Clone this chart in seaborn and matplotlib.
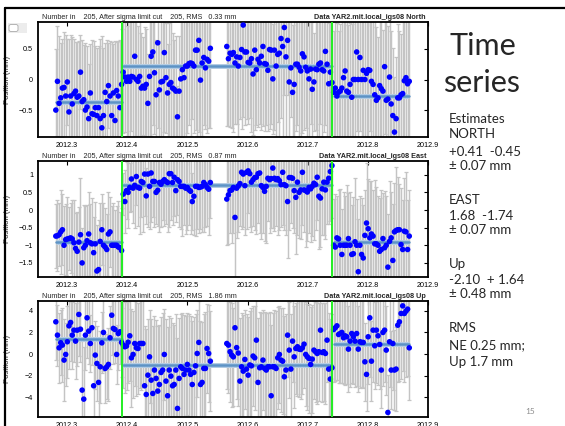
import numpy as np
import matplotlib
matplotlib.use("Agg")
import matplotlib.pyplot as plt
import seaborn as sns
from matplotlib.lines import Line2D
from matplotlib.patches import FancyBboxPatch
from matplotlib.ticker import FuncFormatter

# day of year (2012) of each daily solution
days = [
    103, 104, 105, 106, 107, 108, 109, 110, 111, 112, 113, 114, 115, 116, 117, 118, 119, 120, 121, 122,
    123, 124, 125, 126, 127, 128, 129, 130, 131, 132, 133, 134, 135, 136, 137, 138, 139, 140, 141, 142,
    143,
    144, 145, 146, 147, 148, 149, 150, 151, 152, 153, 154, 155, 156, 157, 158, 159, 160, 161, 162, 163,
    164, 165, 166, 167, 168, 169, 170, 171, 172, 173, 174, 175, 176, 177, 178, 179, 180, 181, 182, 183,
    184, 185, 186, 187, 188, 189, 190, 191, 192, 193, 194, 195, 196, 197,
    207, 208, 209, 210, 211, 212, 213, 214, 215, 216, 217, 218, 219, 220, 221, 222, 223, 224, 225, 226,
    227, 228, 229, 230, 231, 232, 233, 234, 235, 236, 237, 238, 239, 240, 241, 242, 243, 244, 245, 246,
    247, 248, 249, 250, 251, 252, 253, 254, 255, 256, 257, 258, 259, 260, 261, 262, 263, 264, 265, 266,
    267, 268, 269, 270, 271,
    272, 273, 274, 275, 276, 277, 278, 279, 280, 281, 282, 283, 284, 285, 286, 287, 288, 289, 290, 291,
    292, 293, 294, 295, 296, 297, 298, 299, 300, 301, 302, 303, 304, 305, 306, 307, 308, 309, 310, 311,
    312, 313, 314, 315, 316, 317, 318,
]

north = [
    -0.50, -0.03, -0.39, -0.30, -0.14, -0.13, -0.27, -0.04, -0.53, -0.27, -0.40, -0.23, -0.19, -0.29, -0.27,
    0.12, -0.36, -0.33, -0.50, -0.45, -0.64, -0.22, -0.56, -0.57, -0.46, -0.59, -0.46, -0.64, -0.79, -0.59,
    -0.21, -0.36, -0.10, -0.27, -0.59, -0.22, -0.67, -0.18, -0.27, -0.46, -0.08,
    0.12, 0.04, -0.03, 0.04, -0.03, 0.05, 0.04, 0.38, 0.00, -0.03, 0.05, -0.14, -0.11, -0.14, -0.08,
    -0.39, 0.05, 0.38, 0.45, 0.11, -0.25, 0.60, -0.17, -0.04, -0.03, 0.44, 0.03, -0.22, -0.08, -0.05,
    -0.14, -0.16, -0.19, -0.61, -0.19, 0.01, 0.16, 0.03, 0.22, 0.22, 0.26, 0.27, 0.26, 0.22, 0.48,
    0.48, 0.64, -0.01, 0.27, 0.36, 0.19, 0.33, 0.30, 0.51,
    0.54, 0.34, 0.43, 0.41, 0.44, 0.27, 0.37, 0.22, 0.36,
    0.49, 0.89, 0.45, 0.45, 0.28, 0.27, 0.34, 0.09, 0.48, 0.16, 0.33, 0.27, 0.38, 0.54, 0.26,
    0.25, 0.15, 0.49, 0.48, 0.01, 0.48, 0.22, 0.41, 0.43, 0.67, 0.54, 0.85, 0.37, 0.64, -0.04,
    0.19, -0.21, -0.08, 0.25, 0.25, 0.20, 0.14, 0.42, 0.37, 0.20, 0.14, 0.01, 0.17, -0.16, -0.04,
    0.17, 0.16, 0.25, 0.27, 0.16, 0.14, 0.46, 0.25, -0.07, 0.12, -0.05,
    -0.21, -0.14, -0.27, -0.21, -0.19, -0.14, 0.03, 0.14, -0.19, -0.21, -0.08, -0.29, 0.00, 0.00, 0.45,
    0.00, 0.36, 0.00, 0.15, 0.00, 0.10, 0.16, 0.15, -0.03, -0.08, -0.25, -0.34, -0.30, -0.10, -0.15,
    -0.19, 0.21, -0.34, -0.32, 0.04, -0.40, -0.59, -0.86, -0.64, -0.30, -0.30, -0.25, -0.23, -0.02, 0.03,
    -0.07, -0.03,
]
north_sig = [
    1.0, 0.9, 1.1, 0.9, 0.8, 0.9, 1.0, 0.7, 1.2, 1.0, 1.1, 0.9, 0.8, 0.9, 0.9, 0.6, 1.0, 0.9, 1.1, 1.0,
    0.9, 0.8, 1.2, 1.2, 1.0, 1.1, 1.0, 1.3, 1.5, 1.1, 0.8, 1.0, 0.7, 0.9, 1.2, 0.8, 1.3, 0.8, 0.9, 1.1,
    0.9,
    1.0, 0.9, 0.9, 1.1, 1.2, 0.9, 1.0, 1.3, 1.0, 0.9, 1.1, 0.9, 0.8, 1.0, 0.9, 0.8, 1.2, 1.3, 1.2, 1.0,
    0.9, 1.4, 0.8, 1.0, 1.1, 1.3, 0.9, 0.8, 1.0, 1.1, 0.9, 0.8, 0.9, 0.5, 0.9, 1.0, 1.1, 1.0, 1.2, 1.1,
    1.0, 1.2, 0.9, 1.1, 1.3, 1.4, 1.5, 1.0, 1.2, 1.1, 1.0, 1.2, 1.1, 1.3,
    1.3, 1.1, 1.2, 1.2, 1.3, 1.0, 1.1, 1.2, 1.0, 1.3, 1.5, 1.2, 1.1, 1.0, 0.9, 1.2, 1.0, 1.3, 0.9, 1.1,
    1.0, 1.2, 1.3, 1.1, 1.0, 1.0, 1.3, 1.2, 0.9, 1.3, 1.2, 1.1, 1.4, 1.3, 1.5, 1.1, 1.4, 0.9, 1.0, 0.8,
    1.1, 1.2, 1.1, 1.0, 1.2, 1.1, 1.3, 1.2, 1.0, 1.1, 1.0, 0.9, 1.1, 0.8, 1.0, 1.1, 1.2, 1.0, 1.1, 1.0,
    1.2, 1.3, 1.0, 1.2, 1.1,
    1.0, 1.1, 1.2, 1.0, 1.1, 1.2, 1.0, 1.1, 1.3, 1.1, 1.0, 1.2, 1.1, 1.0, 1.3, 1.1, 1.2, 1.0, 1.1, 1.0,
    1.2, 1.1, 1.0, 1.2, 1.1, 1.3, 1.2, 1.0, 1.1, 1.2, 1.0, 1.1, 1.3, 1.2, 1.0, 1.2, 1.1, 0.9, 1.0, 1.2,
    1.1, 1.0, 1.2, 1.1, 1.0, 1.2, 1.1,
]

east = [
    -0.74, -0.73, -0.70, -0.62, -0.56, -1.00, -0.84, -0.82, -0.81, -0.79, -0.82, -0.93, -1.09, -1.17, -0.91,
    -0.70, -1.50, -1.07, -1.00, -0.87, -0.68, -0.93, -0.96, -1.21, -0.96, -1.73, -1.69, -0.89, -0.56, -1.00,
    -1.05, -1.12, -0.68, -0.62, -1.00, -1.00, -1.00, -1.00, -1.05, -1.07, -1.15,
    0.45, 0.24, 0.55, 0.50, 0.64, 0.88, 0.62, 0.70, 0.95, 0.64, 0.62, 0.81, 0.78, 1.02, 0.40,
    1.02, 0.67, 1.05, 0.81, 0.81, 0.50, 0.56, 0.78, 0.73, 0.81, 0.86, 0.81, 0.78, 1.03, 1.03,
    0.78, 0.93, 0.55, 0.86, 0.81, 0.67, 0.67, 0.67, 0.62, 0.64, 0.57, 0.53, 0.24, 0.39, 0.67,
    0.67, 0.64, 0.65, 0.67, 0.78, 0.72, 0.64, 0.59, 0.78,
    0.31, 0.43, 0.55, 0.57, 0.64, -0.21, 0.62, 0.68, 0.75,
    1.07, 1.02, 0.69, 1.07, 1.11, 1.03, 0.79, 0.86, 0.92, 0.93, 1.03, 1.05, 0.69, 0.64, 0.53,
    0.67, 0.90, 0.86, 0.89, 1.19, 0.90, 0.86, 0.89, 0.83, 0.72, 1.07, 0.72, 0.69, 0.24, 0.92,
    0.92, 0.90, 0.55, 0.36, 0.79, 0.50, 0.57, 1.07, 0.57, 0.55, 0.51, 0.64, 0.60, 0.67, 0.76,
    0.72, 0.93, 0.39, 0.34, 0.60, 0.79, 0.57, 0.79, 0.90, 1.09, 1.26,
    -1.00, -1.05, -0.79, -0.82, -1.00, -1.26, -1.00, -1.00, -1.00, -0.81, -1.00, -1.26, -1.24, -0.90, -1.00,
    -1.75, -1.00, -1.26, -1.36, -0.72, -0.37, -0.53, -0.79, -0.68, -0.74, -0.96, -0.96, -1.00, -1.17, -1.12,
    -0.81, -1.07, -1.00, -1.62, -0.89, -0.79, -1.43, -0.62, -0.58, -0.56, -0.56, -0.98, -1.12, -0.60, -0.62,
    -1.12, -0.74,
]
east_sig = [
    0.9, 1.0, 0.9, 1.2, 1.0, 1.1, 1.0, 1.2, 0.9, 1.0, 1.1, 1.2, 1.0, 1.1, 1.0, 1.6, 1.0, 1.2, 1.1, 1.0,
    1.2, 1.1, 1.3, 1.0, 1.2, 1.3, 1.4, 1.1, 1.0, 1.2, 1.1, 1.0, 1.2, 1.0, 1.1, 1.2, 1.0, 1.1, 1.3, 1.0,
    1.2,
    0.6, 0.9, 0.8, 1.0, 0.7, 0.9, 1.0, 1.2, 0.8, 1.1, 1.3, 1.0, 1.4, 1.2, 0.8, 1.5, 1.2, 1.4, 1.0, 1.3,
    0.9, 1.0, 1.4, 1.2, 1.1, 1.3, 1.2, 1.4, 1.5, 1.3, 1.2, 1.1, 0.9, 1.0, 1.3, 1.2, 1.4, 1.1, 1.3, 1.2,
    1.0, 1.2, 0.8, 1.1, 1.4, 1.2, 1.3, 1.2, 1.3, 1.4, 1.2, 1.1, 1.3, 1.0,
    1.3, 1.4, 1.2, 1.5, 1.3, 2.5, 1.4, 1.3, 1.2, 1.6, 1.5, 1.4, 1.6, 1.2, 1.5, 1.4, 1.3, 1.5, 1.6, 1.4,
    1.7, 1.5, 1.3, 1.4, 1.6, 1.2, 1.5, 1.4, 1.7, 1.5, 1.3, 1.6, 1.4, 1.2, 1.5, 1.3, 1.4, 1.6, 1.5, 1.3,
    1.4, 1.2, 1.6, 1.5, 1.3, 1.4, 1.5, 1.2, 1.6, 1.4, 1.3, 1.5, 1.4, 1.6, 1.3, 1.2, 1.5, 1.4, 1.3, 1.5,
    1.4, 1.2, 1.3, 1.4, 1.5,
    1.3, 1.5, 1.2, 1.4, 1.6, 1.3, 1.5, 1.4, 1.7, 1.3, 1.5, 1.4, 1.6, 1.8, 1.3, 1.5, 1.4, 1.6, 1.5, 1.3,
    1.7, 1.4, 1.6, 1.5, 1.3, 1.8, 1.6, 1.4, 1.5, 1.7, 1.3, 1.6, 1.4, 1.5, 1.7, 1.3, 1.6, 1.4, 1.8, 1.5,
    1.3, 1.6, 1.4, 1.5, 1.7, 1.4, 1.3,
]

up = [
    2.98, 1.75, 0.58, 1.05, 0.83, -0.55, -0.03, 1.14, 2.61, 2.92, 1.75, 2.21, 1.20, 2.21, 3.66,
    2.30, -3.32, -4.15, 1.75, 3.35, 2.12, 0.98, 2.43, -2.92, -0.09, -0.86, -2.61, -1.17, 1.04, 2.00,
    -1.32, -1.17, -0.95, 1.51, 3.59, 2.37, 2.27, -0.03, 1.90, 2.06, 1.08,
    0.83, 0.68, 0.75, 1.10, 1.69, -0.34, -0.03, 0.98, 0.58, 0.52, 0.98, 0.98, 0.98, -2.92, -3.72,
    -1.94, -0.25, -2.40, -3.63, -1.47, -2.24, -3.41, -2.80, -1.69, -1.47, -0.03, -2.49, -3.84, -1.47, -2.03,
    -2.92, -2.80, -1.47, -5.01, -2.24, -1.17, -1.32, -1.87, -1.47, -0.95, -1.47, -1.87, -2.80, -1.69, -1.08,
    0.06, 1.08, -2.80, -2.61, -1.32, -1.32, 0.52, 0.06, -0.65,
    0.98, 0.83, 0.22, -0.09, -0.25, 2.43, 0.60, 0.10, -2.49, -1.17, -1.57, -0.49, -1.38, -1.94, -1.00,
    -1.08, -0.18, -0.34, 1.29, -2.61, -1.26, -1.17, -0.55, -1.32, -1.47, -1.17, -1.17, -3.84, -1.17, -1.17,
    -1.32, -0.34, -0.03, -0.55, -0.65, -2.09, -1.47, 1.75, 0.37, -1.38, 1.20, -0.25, 0.52, 0.68, 0.46,
    0.43, 0.58, 0.92, -0.03, -0.25, -0.40, -0.95, -0.46, 0.37, 0.22, 0.06, 0.22, 2.21, 0.15, 0.22,
    0.06, 1.29, -1.38, -2.30, -1.26,
    2.27, 2.43, 2.61, 1.81, 1.90, 2.00, 1.51, 1.69, 1.60, 0.46, 1.20, 1.90, 1.60, 1.20, 1.90,
    0.46, 1.14, 1.08, 1.08, -0.71, -1.87, 1.60, 3.35, -0.65, 2.21, 0.77, 2.21, 1.69, 0.89, -1.47,
    2.00, 2.21, 0.37, -5.38, 1.14, -1.47, 0.98, -1.47, -1.38, 2.67, 2.98, 3.75, 4.45, 3.75, 3.96,
    4.15, 0.58,
]
up_sig = [
    3.5, 2.8, 3.2, 3.0, 3.4, 3.8, 2.9, 3.3, 4.0, 3.6, 3.1, 2.9, 3.5, 3.3, 3.8, 3.0, 4.5, 4.8, 3.2, 3.7,
    3.0, 2.6, 3.4, 4.2, 3.1, 3.5, 4.0, 3.3, 2.8, 3.6, 3.2, 3.0, 3.4, 2.9, 3.7, 3.3, 3.1, 2.7, 3.4, 3.0,
    3.2,
    4.0, 4.3, 4.1, 3.8, 4.2, 4.5, 4.0, 3.9, 4.4, 4.2, 4.1, 4.3, 4.0, 5.5, 6.0, 5.2, 4.3, 5.6, 6.2, 5.0,
    5.4, 6.0, 5.5, 5.1, 5.3, 4.2, 5.7, 6.3, 5.0, 5.4, 5.8, 5.5, 5.2, 6.5, 5.6, 4.9, 5.1, 5.5, 5.0, 4.7,
    5.2, 5.4, 5.9, 5.1, 4.8, 4.0, 3.8, 5.9, 5.6, 5.0, 5.2, 4.1, 4.5, 4.6,
    4.2, 4.4, 4.6, 4.8, 4.5, 3.5, 4.7, 4.9, 5.8, 5.0, 5.2, 4.6, 5.1, 5.4, 5.0, 5.3, 4.6, 4.8, 3.8, 5.9,
    5.1, 5.0, 4.6, 5.2, 5.3, 5.0, 5.1, 6.5, 5.0, 5.2, 5.3, 4.7, 4.5, 4.8, 4.9, 5.6, 5.2, 3.9, 4.4, 5.1,
    3.8, 4.7, 4.2, 4.5, 4.4, 4.6, 4.3, 4.0, 4.8, 4.9, 5.0, 5.3, 5.0, 4.5, 4.6, 4.7, 4.5, 3.4, 4.6, 4.5,
    4.7, 3.9, 5.2, 5.5, 5.0,
    4.8, 4.9, 5.0, 4.5, 4.6, 4.7, 4.3, 4.5, 4.4, 4.0, 4.2, 4.6, 4.4, 4.2, 4.8, 4.0, 4.3, 4.1, 4.2, 3.6,
    3.4, 4.4, 5.5, 3.7, 4.8, 4.0, 4.9, 4.5, 4.1, 3.5, 4.9, 4.8, 4.1, 3.5, 4.2, 3.6, 4.3, 3.7, 3.9, 5.2,
    5.5, 6.0, 6.0, 6.3, 6.1, 6.2, 4.8,
]

# fitted offsets for the three intervals between breaks
seg_days = [(103, 143), (144, 271), (272, 318)]
north_fit = [-0.36, 0.22, -0.27]
east_fit = [-0.92, 0.72, -0.91]
up_fit = [1.44, -1.01, 0.92]
breaks = [2012.392, 2012.741]

components = ["North", "East", "Up"]
rms = ["0.33", "0.87", "1.86"]
ylims = [(-0.94, 0.94), (-1.9, 1.39), (-5.8, 4.9)]
yticks = [[-0.5, 0, 0.5], [-1.5, -1, -0.5, 0, 0.5, 1], [-4, -2, 0, 2, 4]]
xticks = [2012.3, 2012.4, 2012.5, 2012.6, 2012.7, 2012.8, 2012.9]

notes = [
    ("Estimates", 122.7), ("NORTH", 138.5), ("+0.41  -0.45", 156), ("\u00b1 0.07 mm", 169.5),
    ("EAST", 204), ("1.68  -1.74", 220), ("\u00b1 0.07 mm", 233.5),
    ("Up", 267.5), ("-2.10  + 1.64", 284), ("\u00b1 0.48 mm", 297.5),
    ("RMS", 331.5), ("NE 0.25 mm;", 349), ("Up 1.7 mm", 365.5),
]

sns.set_style("white")
plt.rcParams["font.family"] = ["Liberation Sans", "DejaVu Sans"]

W, H = 565, 426
fig = plt.figure(figsize=(W / 100, H / 100), dpi=100)

t = 2012 + np.array(days) / 366.0
panels = [(22, 137), (161, 277), (301, 417)]
series = [(north, north_sig, north_fit), (east, east_sig, east_fit), (up, up_sig, up_fit)]

for i, ((top, bot), (vals, sig, fit)) in enumerate(zip(panels, series)):
    ax = fig.add_axes([38 / W, 1 - bot / H, 390 / W, (bot - top) / H])
    ax.errorbar(t, vals, yerr=sig, fmt="none", ecolor="#c4c4c4", elinewidth=1.05,
                capsize=1.7, capthick=0.9, zorder=1)
    for (d0, d1), f in zip(seg_days, fit):
        xs = [2012 + d0 / 366.0, 2012 + d1 / 366.0]
        ax.plot(xs, [f, f], color="#b4cce3", lw=3.6, zorder=2, solid_capstyle="butt")
        sns.lineplot(x=xs, y=[f, f], ax=ax, color="#5d93c6", lw=1.8, zorder=2)
    sns.scatterplot(x=t, y=vals, ax=ax, color="#0000ff", s=16, edgecolor="none", zorder=3)
    for b in breaks:
        ax.axvline(b, color="#22ee22", lw=1.4, zorder=4)

    ax.set_xlim(2012.2518, 2012.9)
    ax.set_ylim(*ylims[i])
    ax.set_xticks(xticks)
    ax.set_xticklabels([f"{x:.1f}" for x in xticks])
    ax.set_yticks(yticks[i])
    ax.yaxis.set_major_formatter(FuncFormatter(lambda v, p: f"{v:g}".replace("-", "\u2212")))
    ax.tick_params(direction="in", top=True, right=True, length=3, width=0.8,
                   labelsize=5.2, pad=3.5, colors="black")
    for sp in ax.spines.values():
        sp.set_linewidth(1.3)
        sp.set_color("black")
    ax.set_ylabel("Position (mm)", fontsize=5.6)
    ax.yaxis.set_label_coords(-0.068, 0.5)
    ax.text(0.01, 1.012, f"Number in    205, After sigma limit cut    205, RMS   {rms[i]} mm",
            transform=ax.transAxes, fontsize=5.2, ha="left", va="bottom")
    ax.text(0.995, 1.012, f"Data YAR2.mit.local_igs08 {components[i]}",
            transform=ax.transAxes, fontsize=5.2, ha="right", va="bottom", fontweight="bold")

# slide decorations
fig.add_artist(Line2D([5 / W, 1], [1 - 8 / H, 1 - 8 / H], color="black", lw=1.6))
fig.add_artist(Line2D([5 / W, 5 / W], [0, 1 - 8 / H], color="black", lw=1.6))
fig.add_artist(FancyBboxPatch((8 / W, 1 - 33 / H), 19 / W, 10 / H, boxstyle="square,pad=0",
                              transform=fig.transFigure, facecolor="#ececec", edgecolor="none"))
fig.add_artist(FancyBboxPatch((9 / W, 1 - 31.5 / H), 9 / W, 7 / H,
                              boxstyle="round,pad=0,rounding_size=0.004",
                              transform=fig.transFigure, facecolor="white", edgecolor="#aaaaaa", lw=0.6))

side = ["Lato", "Open Sans", "DejaVu Sans"]
fig.text(450 / W, 1 - 55 / H, "Time", fontsize=22, family=side, va="baseline", ha="left")
fig.text(443 / W, 1 - 92 / H, "series", fontsize=22, family=side, va="baseline", ha="left")
for txt, y in notes:
    fig.text(449 / W, 1 - y / H, txt, fontsize=9.5, family=side, va="baseline", ha="left")
fig.text(530 / W, 1 - 411.5 / H, "15", fontsize=6, family=side, color="#8c8c8c",
         va="center", ha="center")

fig.savefig("out.png", dpi=100)
